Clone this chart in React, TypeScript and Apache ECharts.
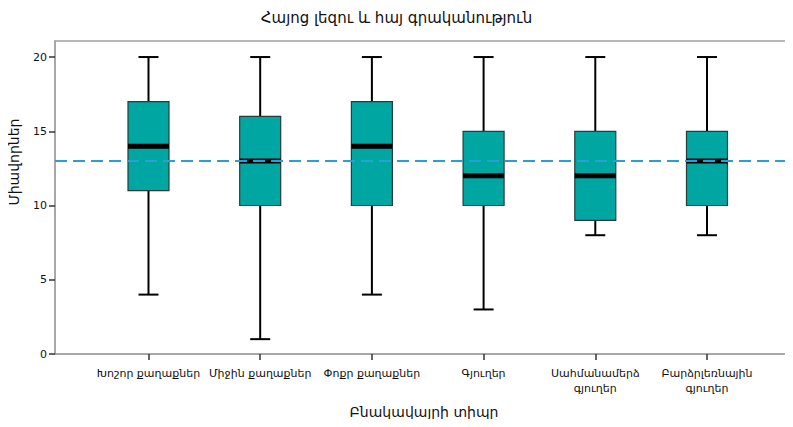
import React, { useEffect, useRef } from "react";
import * as echarts from "echarts";

const title = "Հայոց լեզու և հայ գրականություն";
const xAxisName = "Բնակավայրի տիպը";
const yAxisName = "Միավորներ";
const categories = [
  "Խոշոր քաղաքներ",
  "Միջին քաղաքներ",
  "Փոքր քաղաքներ",
  "Գյուղեր",
  "Սահմանամերձ\nգյուղեր",
  "Բարձրլեռնային\nգյուղեր",
];
const whiskerLow = [4, 1, 4, 3, 8, 8];
const q1 = [11, 10, 10, 10, 9, 10];
const median = [14, 13, 14, 12, 12, 13];
const q3 = [17, 16, 17, 15, 15, 15];
const whiskerHigh = [20, 20, 20, 20, 20, 20];
const referenceValue = 13;
const yTicks = [0, 5, 10, 15, 20];

const FONT = "DejaVu Sans";

export default function App() {
  const ref = useRef<HTMLDivElement>(null);
  useEffect(() => {
    if (!ref.current) return;
    const chart = echarts.init(ref.current, undefined, { renderer: "svg" });
    const data = categories.map((_, i) => [i, whiskerLow[i], q1[i], median[i], q3[i], whiskerHigh[i]]);
    const xIdx = categories.map((_, i) => i);
    const xMin = -0.837;
    const xMax = 5.77;
    chart.setOption({
      animation: false,
      backgroundColor: "#ffffff",
      textStyle: { fontFamily: FONT },
      title: {
        text: title,
        left: "center",
        top: 5,
        textStyle: { fontFamily: FONT, fontSize: 15, fontWeight: "normal", color: "#111" },
      },
      grid: { left: 55, right: 0, top: 41, bottom: 73, containLabel: false },
      xAxis: [
        {
          type: "value",
          min: xMin,
          max: xMax,
          splitLine: { show: false },
          axisLine: { show: true, onZero: false, lineStyle: { color: "#8a8a8a", width: 1.5 } },
          axisTick: { show: true, customValues: xIdx, length: 6, lineStyle: { color: "#333", width: 1.5 } },
          axisLabel: {
            show: true,
            customValues: xIdx,
            formatter: (v: number) => categories[Math.round(v)] ?? "",
            fontFamily: FONT,
            fontSize: 11,
            color: "#111",
            margin: 12,
            lineHeight: 15,
            hideOverlap: false,
          },
          name: xAxisName,
          nameLocation: "middle",
          nameGap: 51,
          nameTextStyle: { fontFamily: FONT, fontSize: 14, color: "#111" },
        },
        {
          type: "value",
          position: "top",
          min: xMin,
          max: xMax,
          splitLine: { show: false },
          axisLine: { show: true, onZero: false, lineStyle: { color: "#a0a0a0", width: 1.5 } },
          axisTick: { show: false },
          axisLabel: { show: false },
        },
      ],
      yAxis: {
        type: "value",
        min: 0,
        max: 21.08,
        splitLine: { show: false },
        axisLine: { show: true, onZero: false, lineStyle: { color: "#8a8a8a", width: 1.5 } },
        axisTick: { show: true, customValues: yTicks, length: 6, lineStyle: { color: "#333", width: 1.5 } },
        axisLabel: { customValues: yTicks, fontFamily: FONT, fontSize: 11, color: "#111", margin: 8 },
      },
      graphic: [
        {
          type: "text",
          x: 14,
          y: 162,
          rotation: Math.PI / 2,
          style: {
            text: yAxisName,
            fontFamily: FONT,
            fontSize: 14,
            fill: "#111",
            align: "center",
            verticalAlign: "middle",
          },
        },
      ],
      series: [
        {
          type: "custom",
          xAxisIndex: 0,
          z: 2,
          clip: false,
          data,
          renderItem: (params: any, api: any) => {
            const x = api.value(0);
            const pLow = api.coord([x, api.value(1)]);
            const pQ1 = api.coord([x, api.value(2)]);
            const pMed = api.coord([x, api.value(3)]);
            const pQ3 = api.coord([x, api.value(4)]);
            const pHigh = api.coord([x, api.value(5)]);
            const cx = pLow[0];
            const bw = 41;
            const cw = 20;
            const black = { stroke: "#000", lineWidth: 2 };
            return {
              type: "group",
              children: [
                { type: "line", shape: { x1: cx, y1: pQ3[1], x2: cx, y2: pHigh[1] }, style: black },
                { type: "line", shape: { x1: cx, y1: pQ1[1], x2: cx, y2: pLow[1] }, style: black },
                { type: "line", shape: { x1: cx - cw / 2, y1: pHigh[1], x2: cx + cw / 2, y2: pHigh[1] }, style: black },
                { type: "line", shape: { x1: cx - cw / 2, y1: pLow[1], x2: cx + cw / 2, y2: pLow[1] }, style: black },
                {
                  type: "rect",
                  shape: { x: cx - bw / 2, y: pQ3[1], width: bw, height: pQ1[1] - pQ3[1] },
                  style: { fill: "#00a6a1", stroke: "#2b3b3a", lineWidth: 1.2 },
                },
                {
                  type: "line",
                  shape: { x1: cx - bw / 2, y1: pMed[1], x2: cx + bw / 2, y2: pMed[1] },
                  style: { stroke: "#000", lineWidth: 5 },
                },
              ],
            };
          },
          markLine: {
            silent: true,
            symbol: "none",
            label: { show: false },
            lineStyle: { color: "#2a9fd6", width: 2, type: [12, 6] },
            data: [{ yAxis: referenceValue }],
          },
        },
      ],
    });
    return () => chart.dispose();
  }, []);
  return <div ref={ref} style={{ width: 793, height: 427, margin: -8 }} />;
}
